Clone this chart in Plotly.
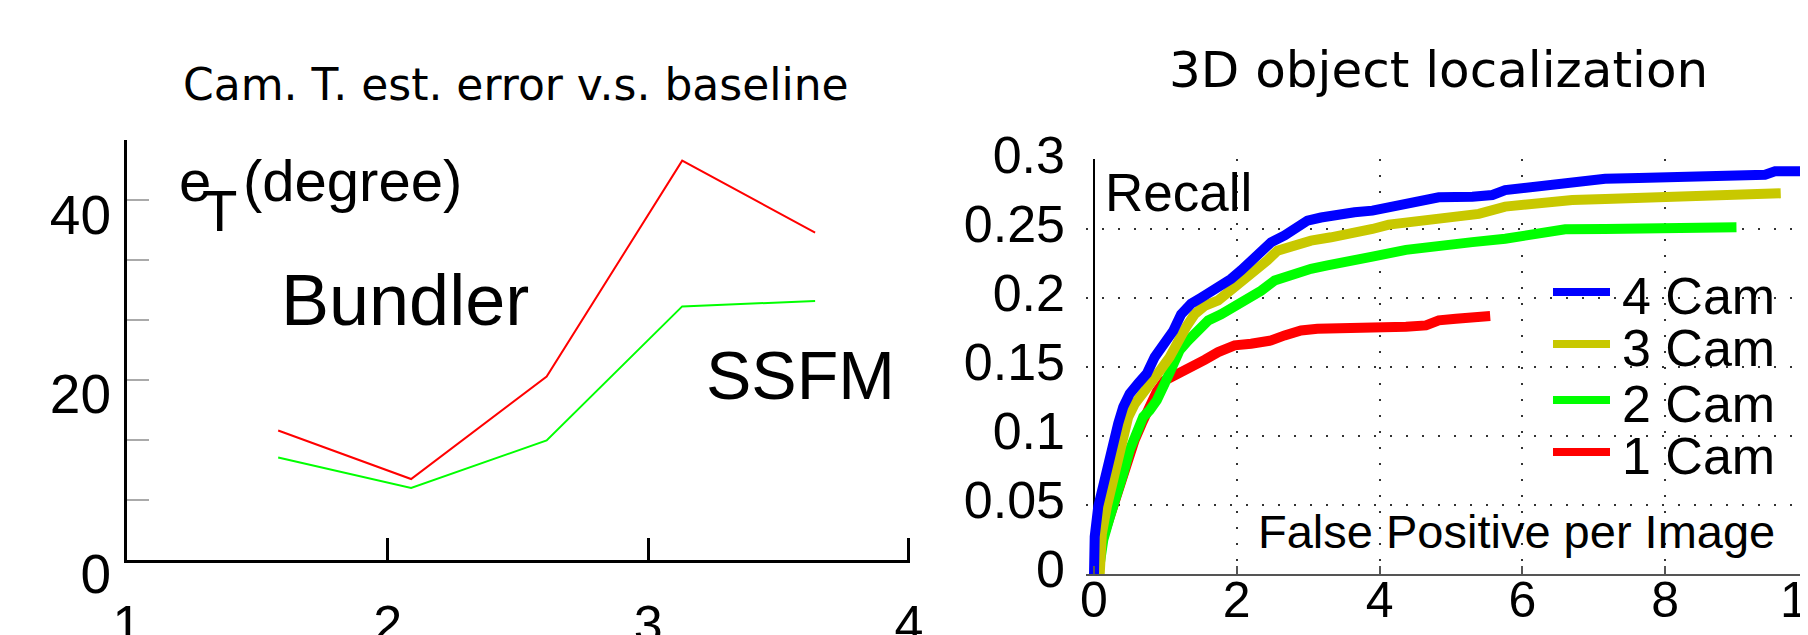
import plotly.graph_objects as go

# window is 1808x635; the page body adds an 8px margin, so the figure is sized to fit
W, H = 1808, 635
OFF = 8
FW, FH = W - OFF, H - OFF

# ---------------- Left panel data ----------------
baseline = [1.58, 2.09, 2.61, 3.13, 3.64]
bundler_err = [14.4, 9.0, 20.4, 44.4, 36.4]
ssfm_err = [11.4, 8.0, 13.3, 28.2, 28.8]
left_xticks = [1, 2, 3, 4]
left_xticklabels = ["1", "2", "3", "4"]
left_yticks = [0, 20, 40]
left_yticklabels = ["0", "20", "40"]

# ---------------- Right panel data ----------------
cam4_x = [0.0, 0.01, 0.06, 0.13, 0.20, 0.27, 0.34, 0.41, 0.50, 0.62, 0.74, 0.85, 0.99, 1.11,
          1.22, 1.36, 1.50, 1.64, 1.78, 1.92, 2.06, 2.20, 2.34, 2.48, 2.67, 2.85, 2.99, 3.18,
          3.41, 3.65, 3.90, 4.13, 4.37, 4.83, 5.30, 5.58, 5.76, 6.23, 6.70, 7.16, 7.63, 8.09,
          8.56, 9.02, 9.40, 9.54, 10.0]
cam4_y = [0.0, 0.027, 0.049, 0.0655, 0.078, 0.094, 0.109, 0.121, 0.1305, 0.138, 0.145, 0.157,
          0.167, 0.176, 0.188, 0.1956, 0.200, 0.204, 0.209, 0.2136, 0.2197, 0.227, 0.234, 0.240,
          0.245, 0.251, 0.2558, 0.258, 0.2606, 0.2618, 0.263, 0.2655, 0.269, 0.2726, 0.273,
          0.2743, 0.2779, 0.2811, 0.2835, 0.286, 0.2866, 0.287, 0.2876, 0.2885, 0.289, 0.2914,
          0.2914]
cam3_x = [0.08, 0.11, 0.18, 0.25, 0.32, 0.39, 0.48, 0.57, 0.69, 0.81, 0.92, 1.06, 1.18, 1.29,
          1.41, 1.55, 1.74, 1.92, 2.11, 2.30, 2.43, 2.57, 2.76, 3.04, 3.32, 3.60, 3.90, 4.13,
          4.60, 5.07, 5.39, 5.76, 6.23, 6.70, 7.16, 7.63, 8.09, 8.56, 9.02, 9.62]
cam3_y = [0.0, 0.029, 0.0487, 0.0655, 0.082, 0.099, 0.1137, 0.123, 0.1305, 0.138, 0.147, 0.157,
          0.169, 0.1787, 0.188, 0.194, 0.198, 0.205, 0.2136, 0.2209, 0.227, 0.234, 0.2377,
          0.2413, 0.2437, 0.246, 0.2497, 0.2529, 0.2558, 0.2582, 0.2606, 0.2659, 0.269, 0.2707,
          0.2714, 0.272, 0.2726, 0.2738, 0.2755, 0.2755]
cam2_x = [0.06, 0.13, 0.22, 0.32, 0.41, 0.50, 0.60, 0.69, 0.78, 0.88, 0.99, 1.11, 1.20, 1.32,
          1.46, 1.60, 1.78, 1.97, 2.16, 2.34, 2.53, 2.76, 3.04, 3.27, 3.55, 3.90, 4.37, 4.83,
          5.30, 5.76, 6.23, 6.60, 7.16, 7.63, 8.09, 8.56, 9.00]
cam2_y = [0.0, 0.0246, 0.041, 0.056, 0.0727, 0.0896, 0.1016, 0.1137, 0.1185, 0.1257, 0.1378,
          0.152, 0.162, 0.169, 0.176, 0.1835, 0.188, 0.194, 0.198, 0.205, 0.2124, 0.217, 0.2209,
          0.2233, 0.2269, 0.2297, 0.2346, 0.2366, 0.2402, 0.2426, 0.2462, 0.2495, 0.2497,
          0.2497, 0.2502, 0.2505, 0.251]
cam1_x = [0.10, 0.20, 0.29, 0.39, 0.48, 0.57, 0.67, 0.78, 0.88, 0.99, 1.10, 1.18, 1.36, 1.55,
          1.74, 1.97, 2.20, 2.48, 2.67, 2.90, 3.13, 3.44, 3.90, 4.37, 4.65, 4.83, 5.07, 5.30,
          5.55]
cam1_y = [0.022, 0.039, 0.0535, 0.068, 0.082, 0.097, 0.109, 0.122, 0.132, 0.140, 0.1426, 0.146,
          0.150, 0.155, 0.1606, 0.1655, 0.1667, 0.169, 0.1727, 0.1763, 0.1775, 0.1775, 0.1787,
          0.179, 0.1799, 0.1836, 0.1848, 0.1853, 0.1867]
right_xticks = [0, 2, 4, 6, 8, 10]
right_xticklabels = ["0", "2", "4", "6", "8", "10"]
right_yticks = [0, 0.05, 0.1, 0.15, 0.2, 0.25, 0.3]
right_yticklabels = ["0", "0.05", "0.1", "0.15", "0.2", "0.25", "0.3"]

series = [
    ("1 Cam", cam1_x, cam1_y, "#ff0000"),
    ("2 Cam", cam2_x, cam2_y, "#00ff00"),
    ("3 Cam", cam3_x, cam3_y, "#c8c800"),
    ("4 Cam", cam4_x, cam4_y, "#0000ff"),
]

SANS = "Liberation Sans, Arial, Helvetica, sans-serif"
DEJAVU = "DejaVu Sans, Verdana, sans-serif"

fig = go.Figure()
fig.add_trace(go.Scatter(x=baseline, y=bundler_err, mode="lines", name="Bundler",
                         line=dict(color="#ff0000", width=2), xaxis="x", yaxis="y",
                         showlegend=False))
fig.add_trace(go.Scatter(x=baseline, y=ssfm_err, mode="lines", name="SSFM",
                         line=dict(color="#00ff00", width=2), xaxis="x", yaxis="y",
                         showlegend=False))
for name, xs, ys, col in series:
    fig.add_trace(go.Scatter(x=xs, y=ys, mode="lines", name=name,
                             line=dict(color=col, width=10), xaxis="x2", yaxis="y2",
                             showlegend=False))


def px_x(p):
    return (p - OFF) / FW


def px_y(p):
    return 1 - (p - OFF) / FH


def txt(s, x, y, size, family=SANS, xanchor="left"):
    return dict(text=s, x=px_x(x), y=px_y(y), xref="paper", yref="paper",
                xanchor=xanchor, yanchor="middle", showarrow=False,
                font=dict(family=family, size=size, color="black"))


annotations = [
    txt("Cam. T. est. error v.s. baseline", 516, 85, 44, DEJAVU, "center"),
    txt("3D object localization", 1438, 70, 50, DEJAVU, "center"),
    txt("e", 177, 180, 58),
    txt("T", 200, 210, 58),
    txt("(degree)", 241, 180, 58),
    txt("Bundler", 279, 300, 72),
    txt("SSFM", 704, 375, 68),
    txt("Recall", 1103, 192, 53),
    txt("False Positive per Image", 1777, 531, 47, SANS, "right"),
]

shapes = []
legend_rows = [296, 348, 404, 456]
legend_items = [s for s in reversed(series)]
for (name, _, _, col), ry in zip(legend_items, legend_rows):
    annotations.append(txt(name, 1620, ry, 52))
    shapes.append(dict(type="line", xref="paper", yref="paper",
                       x0=px_x(1553), x1=px_x(1610), y0=px_y(ry - 4), y1=px_y(ry - 4),
                       line=dict(color=col, width=8)))

X2_LEFT_PX = 1086
X2_ZERO_PX = 1094
X2_MAX = 10.0
pxu = (W - X2_ZERO_PX) / X2_MAX  # px per unit on right x axis

fig.update_layout(
    width=FW, height=FH, autosize=False,
    margin=dict(l=0, r=0, t=0, b=0, pad=0, autoexpand=False),
    paper_bgcolor="white", plot_bgcolor="white",
    showlegend=False,
    annotations=annotations,
    shapes=shapes,
    xaxis=dict(domain=[px_x(127), px_x(910)], range=[1, 4.004], anchor="y", automargin=False,
               showline=True, linecolor="black", linewidth=3,
               ticks="inside", ticklen=22, tickwidth=2.5, tickcolor="black",
               tickvals=left_xticks, ticktext=left_xticklabels,
               tickfont=dict(family=SANS, size=52, color="black"),
               ticklabelstandoff=17, ticklabeloverflow="allow",
               showgrid=False, zeroline=False, fixedrange=True),
    yaxis=dict(domain=[px_y(560), px_y(140)], range=[0, 46.7], anchor="x", automargin=False,
               showline=True, linecolor="black", linewidth=3,
               ticks="inside", ticklen=22, tickwidth=2, tickcolor="#aaaaaa",
               tickvals=left_yticks, ticktext=left_yticklabels,
               minor=dict(dtick=20 / 3, tick0=0, ticks="inside", ticklen=22, tickwidth=2,
                          tickcolor="#aaaaaa", showgrid=False),
               tickfont=dict(family=SANS, size=55, color="black"),
               ticklabelstandoff=2, ticklabelshift=14, ticklabeloverflow="allow",
               showgrid=False, zeroline=False, fixedrange=True),
    xaxis2=dict(domain=[px_x(X2_LEFT_PX), 1.0],
                range=[-(X2_ZERO_PX - X2_LEFT_PX) / pxu, X2_MAX + 0.002], anchor="y2",
                automargin=False,
                showline=True, linecolor="#555555", linewidth=2,
                ticks="inside", ticklen=8, tickwidth=1.5, tickcolor="#555555",
                tickvals=right_xticks, ticktext=right_xticklabels,
                tickfont=dict(family=SANS, size=50, color="black"),
                ticklabelstandoff=-19, ticklabeloverflow="allow",
                showgrid=True, gridcolor="#333333", gridwidth=1.5, griddash="2px,14px",
                zeroline=True, zerolinecolor="black", zerolinewidth=1.5, fixedrange=True),
    yaxis2=dict(domain=[px_y(574), px_y(158.8)], range=[0, 0.3005], anchor="x2",
                automargin=False,
                showline=False, ticks="",
                tickvals=right_yticks, ticktext=right_yticklabels,
                tickfont=dict(family=SANS, size=52, color="black"),
                ticklabelstandoff=20, ticklabelshift=-5, ticklabeloverflow="allow",
                showgrid=True, gridcolor="#333333", gridwidth=1.5, griddash="2px,14px",
                zeroline=False, fixedrange=True),
)

fig.write_html("out.html")
